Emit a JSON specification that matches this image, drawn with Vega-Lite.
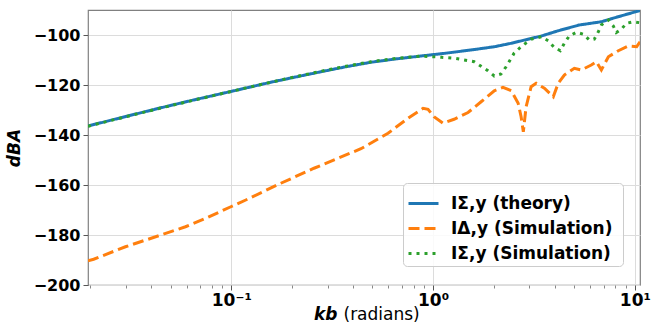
{
  "$schema": "https://vega.github.io/schema/vega-lite/v6.json",
  "width": 552,
  "height": 275,
  "autosize": {"type": "none"},
  "padding": {"left": 88, "top": 10, "right": 26, "bottom": 38},
  "background": "white",
  "config": {
    "view": {"stroke": "#808080", "strokeWidth": 1.2},
    "font": "DejaVu Sans"
  },
  "data": {
    "values": [
      {"kb": 0.0195, "dBA": -136.4, "series": "IΣ,y (theory)"},
      {"kb": 0.03, "dBA": -132.6, "series": "IΣ,y (theory)"},
      {"kb": 0.0438, "dBA": -129.3, "series": "IΣ,y (theory)"},
      {"kb": 0.065, "dBA": -126.0, "series": "IΣ,y (theory)"},
      {"kb": 0.0995, "dBA": -122.6, "series": "IΣ,y (theory)"},
      {"kb": 0.157, "dBA": -118.9, "series": "IΣ,y (theory)"},
      {"kb": 0.2, "dBA": -117.1, "series": "IΣ,y (theory)"},
      {"kb": 0.278, "dBA": -114.7, "series": "IΣ,y (theory)"},
      {"kb": 0.37, "dBA": -112.7, "series": "IΣ,y (theory)"},
      {"kb": 0.492, "dBA": -110.9, "series": "IΣ,y (theory)"},
      {"kb": 0.65, "dBA": -109.6, "series": "IΣ,y (theory)"},
      {"kb": 0.871, "dBA": -108.4, "series": "IΣ,y (theory)"},
      {"kb": 1.15, "dBA": -107.3, "series": "IΣ,y (theory)"},
      {"kb": 1.54, "dBA": -106.0, "series": "IΣ,y (theory)"},
      {"kb": 2.01, "dBA": -104.7, "series": "IΣ,y (theory)"},
      {"kb": 2.44, "dBA": -103.3, "series": "IΣ,y (theory)"},
      {"kb": 2.95, "dBA": -101.7, "series": "IΣ,y (theory)"},
      {"kb": 3.44, "dBA": -100.4, "series": "IΣ,y (theory)"},
      {"kb": 4.17, "dBA": -98.3, "series": "IΣ,y (theory)"},
      {"kb": 5.3, "dBA": -96.0, "series": "IΣ,y (theory)"},
      {"kb": 6.82, "dBA": -94.7, "series": "IΣ,y (theory)"},
      {"kb": 8.1, "dBA": -92.9, "series": "IΣ,y (theory)"},
      {"kb": 10.6, "dBA": -90.2, "series": "IΣ,y (theory)"},

      {"kb": 0.0195, "dBA": -190.3, "series": "IΔ,y  (Simulation)"},
      {"kb": 0.0208, "dBA": -189.7, "series": "IΔ,y  (Simulation)"},
      {"kb": 0.0299, "dBA": -184.7, "series": "IΔ,y  (Simulation)"},
      {"kb": 0.0422, "dBA": -180.7, "series": "IΔ,y  (Simulation)"},
      {"kb": 0.0593, "dBA": -176.7, "series": "IΔ,y  (Simulation)"},
      {"kb": 0.0748, "dBA": -173.3, "series": "IΔ,y  (Simulation)"},
      {"kb": 0.0995, "dBA": -168.7, "series": "IΔ,y  (Simulation)"},
      {"kb": 0.118, "dBA": -166.0, "series": "IΔ,y  (Simulation)"},
      {"kb": 0.176, "dBA": -159.3, "series": "IΔ,y  (Simulation)"},
      {"kb": 0.257, "dBA": -153.3, "series": "IΔ,y  (Simulation)"},
      {"kb": 0.439, "dBA": -145.5, "series": "IΔ,y  (Simulation)"},
      {"kb": 0.598, "dBA": -139.3, "series": "IΔ,y  (Simulation)"},
      {"kb": 0.751, "dBA": -133.3, "series": "IΔ,y  (Simulation)"},
      {"kb": 0.892, "dBA": -129.3, "series": "IΔ,y  (Simulation)"},
      {"kb": 0.944, "dBA": -129.7, "series": "IΔ,y  (Simulation)"},
      {"kb": 1.01, "dBA": -132.7, "series": "IΔ,y  (Simulation)"},
      {"kb": 1.12, "dBA": -135.3, "series": "IΔ,y  (Simulation)"},
      {"kb": 1.27, "dBA": -133.7, "series": "IΔ,y  (Simulation)"},
      {"kb": 1.49, "dBA": -131.0, "series": "IΔ,y  (Simulation)"},
      {"kb": 1.73, "dBA": -126.7, "series": "IΔ,y  (Simulation)"},
      {"kb": 2.01, "dBA": -122.3, "series": "IΔ,y  (Simulation)"},
      {"kb": 2.22, "dBA": -120.9, "series": "IΔ,y  (Simulation)"},
      {"kb": 2.44, "dBA": -122.3, "series": "IΔ,y  (Simulation)"},
      {"kb": 2.64, "dBA": -127.3, "series": "IΔ,y  (Simulation)"},
      {"kb": 2.73, "dBA": -132.7, "series": "IΔ,y  (Simulation)"},
      {"kb": 2.8, "dBA": -138.7, "series": "IΔ,y  (Simulation)"},
      {"kb": 2.89, "dBA": -128.7, "series": "IΔ,y  (Simulation)"},
      {"kb": 3.06, "dBA": -120.7, "series": "IΔ,y  (Simulation)"},
      {"kb": 3.24, "dBA": -119.3, "series": "IΔ,y  (Simulation)"},
      {"kb": 3.56, "dBA": -121.3, "series": "IΔ,y  (Simulation)"},
      {"kb": 3.94, "dBA": -124.7, "series": "IΔ,y  (Simulation)"},
      {"kb": 4.17, "dBA": -119.3, "series": "IΔ,y  (Simulation)"},
      {"kb": 4.47, "dBA": -116.0, "series": "IΔ,y  (Simulation)"},
      {"kb": 5.01, "dBA": -113.3, "series": "IΔ,y  (Simulation)"},
      {"kb": 5.42, "dBA": -114.0, "series": "IΔ,y  (Simulation)"},
      {"kb": 6.08, "dBA": -112.0, "series": "IΔ,y  (Simulation)"},
      {"kb": 6.44, "dBA": -110.7, "series": "IΔ,y  (Simulation)"},
      {"kb": 6.82, "dBA": -114.0, "series": "IΔ,y  (Simulation)"},
      {"kb": 7.39, "dBA": -108.7, "series": "IΔ,y  (Simulation)"},
      {"kb": 8.28, "dBA": -106.3, "series": "IΔ,y  (Simulation)"},
      {"kb": 9.29, "dBA": -104.4, "series": "IΔ,y  (Simulation)"},
      {"kb": 10.2, "dBA": -104.7, "series": "IΔ,y  (Simulation)"},
      {"kb": 10.6, "dBA": -102.7, "series": "IΔ,y  (Simulation)"},

      {"kb": 0.0195, "dBA": -136.5, "series": "IΣ,y (Simulation)"},
      {"kb": 0.03, "dBA": -132.7, "series": "IΣ,y (Simulation)"},
      {"kb": 0.0438, "dBA": -129.4, "series": "IΣ,y (Simulation)"},
      {"kb": 0.065, "dBA": -126.1, "series": "IΣ,y (Simulation)"},
      {"kb": 0.0995, "dBA": -122.6, "series": "IΣ,y (Simulation)"},
      {"kb": 0.157, "dBA": -118.9, "series": "IΣ,y (Simulation)"},
      {"kb": 0.2, "dBA": -117.0, "series": "IΣ,y (Simulation)"},
      {"kb": 0.278, "dBA": -114.5, "series": "IΣ,y (Simulation)"},
      {"kb": 0.37, "dBA": -112.5, "series": "IΣ,y (Simulation)"},
      {"kb": 0.492, "dBA": -110.7, "series": "IΣ,y (Simulation)"},
      {"kb": 0.65, "dBA": -109.4, "series": "IΣ,y (Simulation)"},
      {"kb": 0.871, "dBA": -108.4, "series": "IΣ,y (Simulation)"},
      {"kb": 1.1, "dBA": -108.9, "series": "IΣ,y (Simulation)"},
      {"kb": 1.3, "dBA": -109.4, "series": "IΣ,y (Simulation)"},
      {"kb": 1.6, "dBA": -110.7, "series": "IΣ,y (Simulation)"},
      {"kb": 1.87, "dBA": -114.3, "series": "IΣ,y (Simulation)"},
      {"kb": 2.01, "dBA": -116.4, "series": "IΣ,y (Simulation)"},
      {"kb": 2.17, "dBA": -115.6, "series": "IΣ,y (Simulation)"},
      {"kb": 2.3, "dBA": -112.7, "series": "IΣ,y (Simulation)"},
      {"kb": 2.52, "dBA": -107.3, "series": "IΣ,y (Simulation)"},
      {"kb": 2.73, "dBA": -104.7, "series": "IΣ,y (Simulation)"},
      {"kb": 3.06, "dBA": -101.7, "series": "IΣ,y (Simulation)"},
      {"kb": 3.44, "dBA": -100.7, "series": "IΣ,y (Simulation)"},
      {"kb": 3.72, "dBA": -102.3, "series": "IΣ,y (Simulation)"},
      {"kb": 3.98, "dBA": -104.9, "series": "IΣ,y (Simulation)"},
      {"kb": 4.27, "dBA": -106.3, "series": "IΣ,y (Simulation)"},
      {"kb": 4.47, "dBA": -103.3, "series": "IΣ,y (Simulation)"},
      {"kb": 4.73, "dBA": -100.4, "series": "IΣ,y (Simulation)"},
      {"kb": 5.13, "dBA": -98.9, "series": "IΣ,y (Simulation)"},
      {"kb": 5.55, "dBA": -99.7, "series": "IΣ,y (Simulation)"},
      {"kb": 5.95, "dBA": -102.0, "series": "IΣ,y (Simulation)"},
      {"kb": 6.29, "dBA": -101.7, "series": "IΣ,y (Simulation)"},
      {"kb": 6.59, "dBA": -98.7, "series": "IΣ,y (Simulation)"},
      {"kb": 6.82, "dBA": -96.0, "series": "IΣ,y (Simulation)"},
      {"kb": 7.39, "dBA": -94.0, "series": "IΣ,y (Simulation)"},
      {"kb": 7.82, "dBA": -96.4, "series": "IΣ,y (Simulation)"},
      {"kb": 8.09, "dBA": -99.0, "series": "IΣ,y (Simulation)"},
      {"kb": 8.57, "dBA": -97.7, "series": "IΣ,y (Simulation)"},
      {"kb": 9.08, "dBA": -95.3, "series": "IΣ,y (Simulation)"},
      {"kb": 9.84, "dBA": -94.7, "series": "IΣ,y (Simulation)"},
      {"kb": 10.6, "dBA": -95.1, "series": "IΣ,y (Simulation)"}
    ]
  },
  "layer": [
    {
      "mark": {"type": "line", "strokeWidth": 3, "strokeCap": "butt", "clip": true},
      "encoding": {
        "x": {
          "field": "kb", "type": "quantitative",
          "scale": {"type": "log", "domain": [0.0195, 10.6], "nice": false},
          "axis": {
            "orient": "bottom",
            "values": [0.1, 1, 10],
            "labelExpr": "datum.value < 0.5 ? '10⁻¹' : datum.value < 5 ? '10⁰' : '10¹'",
            "grid": true, "gridColor": "#dcdcdc", "gridWidth": 1,
            "domain": false, "tickSize": 5, "tickColor": "#555",
            "labelFont": "DejaVu Sans", "labelFontSize": 17, "labelFontWeight": "bold", "labelColor": "black",
            "labelPadding": 2, "labelFlush": false,
            "title": "kb", "titleFont": "DejaVu Sans", "titleFontSize": 17, "titleFontWeight": "bold", "titleFontStyle": "italic",
            "titleColor": "black", "titleAlign": "right", "titleX": 249, "titleY": 34, "titleBaseline": "alphabetic"
          }
        },
        "y": {
          "field": "dBA", "type": "quantitative",
          "scale": {"domain": [-200, -90], "nice": false},
          "axis": {
            "values": [-200, -180, -160, -140, -120, -100],
            "grid": true, "gridColor": "#dcdcdc", "gridWidth": 1,
            "domain": false, "tickSize": 5, "tickColor": "#555",
            "labelFont": "DejaVu Sans", "labelFontSize": 16, "labelFontWeight": "bold", "labelColor": "black",
            "labelPadding": 3,
            "title": "dBA", "titleFont": "DejaVu Sans", "titleFontSize": 17, "titleFontWeight": "bold", "titleFontStyle": "italic",
            "titleColor": "black", "titlePadding": 10
          }
        },
        "color": {
          "field": "series", "type": "nominal",
          "scale": {"domain": ["IΣ,y (theory)", "IΔ,y  (Simulation)", "IΣ,y (Simulation)"], "range": ["#1f77b4", "#ff7f0e", "#2ca02c"]},
          "legend": {
            "title": null, "orient": "none", "legendX": 315, "legendY": 173,
            "fillColor": "rgba(255,255,255,0.85)", "strokeColor": "#cccccc", "cornerRadius": 4, "padding": 4,
            "labelFont": "DejaVu Sans", "labelFontSize": 17, "labelFontWeight": "bold", "labelColor": "black", "labelLimit": 400,
            "symbolType": "stroke", "symbolSize": 900, "symbolStrokeWidth": 3, "rowPadding": 0, "labelOffset": 11
          }
        },
        "strokeDash": {
          "field": "series", "type": "nominal",
          "scale": {"domain": ["IΣ,y (theory)", "IΔ,y  (Simulation)", "IΣ,y (Simulation)"], "range": [[1, 0], [11, 5], [3, 5]]},
          "legend": {"title": null}
        }
      }
    },
    {
      "mark": {"type": "line", "opacity": 0},
      "encoding": {
        "x": {
          "field": "kb", "type": "quantitative",
          "axis": {
            "orient": "bottom",
            "values": [0.02, 0.03, 0.04, 0.05, 0.06, 0.07, 0.08, 0.09, 0.2, 0.3, 0.4, 0.5, 0.6, 0.7, 0.8, 0.9, 2, 3, 4, 5, 6, 7, 8, 9],
            "labels": false, "grid": false, "domain": false, "tickSize": 3, "tickColor": "#888",
            "title": "(radians)", "titleFont": "DejaVu Sans", "titleFontSize": 17, "titleFontWeight": "normal",
            "titleColor": "black", "titleAlign": "left", "titleX": 255, "titleY": 34, "titleBaseline": "alphabetic"
          }
        },
        "y": {"field": "dBA", "type": "quantitative"}
      }
    }
  ],
  "resolve": {"axis": {"x": "independent"}}
}
